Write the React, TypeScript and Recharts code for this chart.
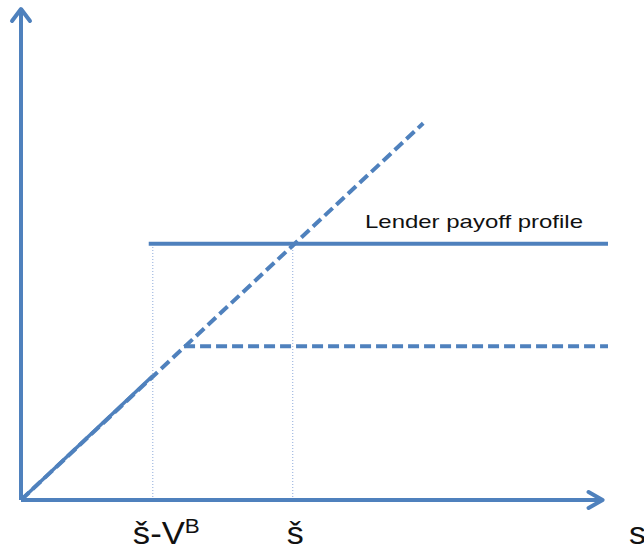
import { LineChart, Line, XAxis, YAxis } from "recharts";

// units: š = 10, diagonal is payoff = s
const xMax = 21.6;
const yMax = 19.2;
const sBar = 10;
const sBarMinusVB = 4.85;
const kink = 6;

const xAxisPts = [{ x: 0, y: 0 }, { x: 21.4, y: 0 }];
const yAxisPts = [{ x: 0, y: 0 }, { x: 0, y: yMax }];
const diagonal = [{ x: 0, y: 0 }, { x: 14.8, y: 14.7 }];
const lenderDiag = [{ x: 0, y: 0 }, { x: sBarMinusVB, y: sBarMinusVB }];
const lenderFlat = [{ x: 4.7, y: sBar }, { x: xMax, y: sBar }];
const dashedFlat = [{ x: kink, y: kink }, { x: xMax, y: kink }];
const guide1 = [{ x: sBarMinusVB, y: 0 }, { x: sBarMinusVB, y: sBar }];
const guide2 = [{ x: sBar, y: 0 }, { x: sBar, y: sBar }];

const tickValues = [sBarMinusVB, sBar];
const tickMain = ["š-V", "š"];
const tickSup = ["B", ""];
const axisName = "s";
const lineLabel = "Lender payoff profile";

const blue = "#4f81bd";
const font = "'Liberation Sans', Arial, sans-serif";

const arrowUp = (p: any) =>
  p.index === 1 ? (
    <path key="au" d={`M${p.cx - 9},${p.cy + 13} L${p.cx},${p.cy + 1} L${p.cx + 9},${p.cy + 13}`} fill="none" stroke={blue} strokeWidth={4} strokeLinecap="round" strokeLinejoin="round" />
  ) : (
    <g key={"au" + p.index} />
  );

const arrowRight = (p: any) =>
  p.index === 1 ? (
    <path key="ar" d={`M${p.cx - 14},${p.cy - 8} L${p.cx},${p.cy} L${p.cx - 14},${p.cy + 8}`} fill="none" stroke={blue} strokeWidth={4} strokeLinecap="round" strokeLinejoin="round" />
  ) : (
    <g key={"ar" + p.index} />
  );

function Tick(props: any) {
  const { x, y, index } = props;
  const main = tickMain[index];
  const sup = tickSup[index];
  if (sup) {
    return (
      <text x={x - 20} y={y + 36} fontSize={31} fontFamily={font} fill="#111" textLength={67} lengthAdjust="spacingAndGlyphs">
        {main}
        <tspan fontSize={20} dy={-11}>{sup}</tspan>
      </text>
    );
  }
  return (
    <text x={x - 6} y={y + 36} fontSize={31} fontFamily={font} fill="#111" textLength={17} lengthAdjust="spacingAndGlyphs">
      {main}
    </text>
  );
}

const flatLabel = (p: any) =>
  p.index === 1 ? (
    <text key="fl" x={p.x - 243} y={p.y - 16} fontSize={18.5} fontFamily={font} fill="#111" textLength={218} lengthAdjust="spacingAndGlyphs">
      {lineLabel}
    </text>
  ) : (
    <g key={"fl" + p.index} />
  );

export default function App() {
  return (
    <div style={{ position: "absolute", left: 0, top: 0, width: 644, height: 548, background: "#fff" }}>
      <LineChart width={644} height={548} margin={{ top: 8, right: 36, bottom: 0, left: 21 }}>
        <XAxis
          type="number"
          dataKey="x"
          domain={[0, xMax]}
          ticks={tickValues}
          axisLine={false}
          tickLine={false}
          height={48}
          tick={<Tick />}
          label={{
            value: axisName,
            content: (lp: any) => (
              <text x={lp.viewBox.x + lp.viewBox.width + 21} y={lp.viewBox.y + 44} fontSize={31} fontFamily={font} fill="#111" textLength={17} lengthAdjust="spacingAndGlyphs">
                {axisName}
              </text>
            ),
          }}
        />
        <YAxis type="number" dataKey="y" domain={[0, yMax]} hide />
        <Line data={guide1} dataKey="y" stroke="#8eaadb" strokeWidth={1} strokeDasharray="1 2" dot={false} isAnimationActive={false} />
        <Line data={guide2} dataKey="y" stroke="#8eaadb" strokeWidth={1} strokeDasharray="1 2" dot={false} isAnimationActive={false} />
        <Line data={lenderDiag} dataKey="y" stroke={blue} strokeWidth={3.5} dot={false} isAnimationActive={false} />
        <Line data={diagonal} dataKey="y" stroke={blue} strokeWidth={4} strokeDasharray="11 5" dot={false} isAnimationActive={false} />
        <Line data={dashedFlat} dataKey="y" stroke={blue} strokeWidth={4} strokeDasharray="11 5" dot={false} isAnimationActive={false} />
        <Line data={lenderFlat} dataKey="y" stroke={blue} strokeWidth={4} dot={false} label={flatLabel} isAnimationActive={false} />
        <Line data={xAxisPts} dataKey="y" stroke={blue} strokeWidth={4} dot={arrowRight} isAnimationActive={false} />
        <Line data={yAxisPts} dataKey="y" stroke={blue} strokeWidth={4} dot={arrowUp} isAnimationActive={false} />
      </LineChart>
    </div>
  );
}
